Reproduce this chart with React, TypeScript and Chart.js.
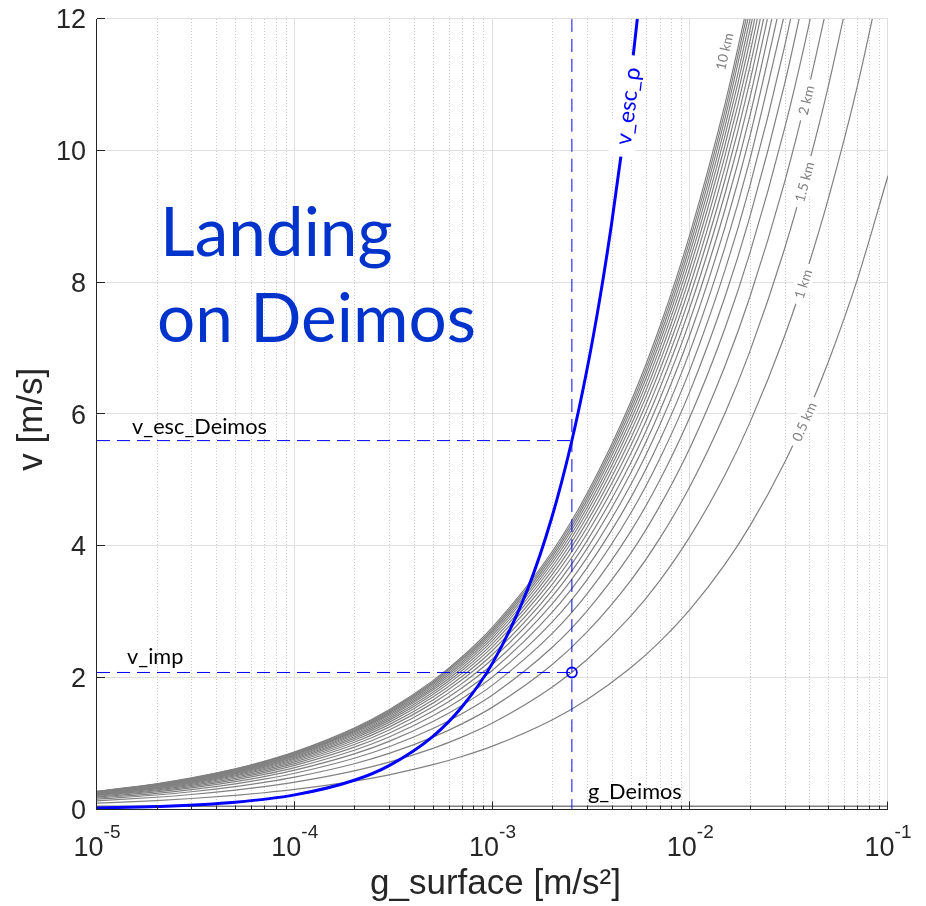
import React, { useEffect, useRef } from 'react';
import { Chart, registerables } from 'chart.js';

Chart.register(...registerables);

// Surface gravity samples (m/s²) shared by the fall-height curves
const G_SAMPLES = [
  1e-5, 2e-5, 3e-5, 5e-5, 7e-5, 1e-4, 2e-4, 3e-4, 5e-4, 7e-4, 1e-3, 2e-3, 3e-3, 5e-3, 7e-3,
  1e-2, 1.5e-2, 2e-2, 3e-2, 4e-2, 5e-2, 7e-2, 1e-1,
];

// Impact speed (m/s) after a fall from each height, one value per gravity sample
const V_0_5_KM = [0.0962, 0.136, 0.1666, 0.2151, 0.2545, 0.3042, 0.4302, 0.5269, 0.6802, 0.8048, 0.962, 1.36, 1.666, 2.151, 2.545, 3.042, 3.726, 4.302, 5.269, 6.084, 6.802, 8.048, 9.62];
const V_1_0_KM = [0.1312, 0.1856, 0.2273, 0.2935, 0.3472, 0.415, 0.5869, 0.7188, 0.928, 1.098, 1.312, 1.856, 2.273, 2.935, 3.472, 4.15, 5.083, 5.869, 7.188, 8.3, 9.28, 10.98, 13.12];
const V_1_5_KM = [0.1554, 0.2198, 0.2692, 0.3476, 0.4112, 0.4915, 0.6951, 0.8513, 1.099, 1.3, 1.554, 2.198, 2.692, 3.476, 4.112, 4.915, 6.02, 6.951, 8.513, 9.83, 10.99, 13.0];
const V_2_0_KM = [0.1739, 0.2459, 0.3012, 0.3888, 0.4601, 0.5499, 0.7777, 0.9525, 1.2296, 1.4549, 1.739, 2.459, 3.012, 3.888, 4.601, 5.499, 6.735, 7.777, 9.525, 11.0, 12.3];
const V_2_5_KM = [0.1888, 0.2669, 0.3269, 0.4221, 0.4994, 0.5969, 0.8441, 1.0339, 1.3347, 1.5793, 1.888, 2.669, 3.269, 4.221, 4.994, 5.969, 7.31, 8.441, 10.339, 11.938, 13.347];
const V_3_0_KM = [0.2011, 0.2844, 0.3483, 0.4497, 0.532, 0.6359, 0.8993, 1.1014, 1.4219, 1.6824, 2.011, 2.844, 3.483, 4.497, 5.32, 6.359, 7.788, 8.993, 11.014, 12.718];
const V_3_5_KM = [0.2115, 0.2991, 0.3664, 0.473, 0.5597, 0.6689, 0.946, 1.1586, 1.4957, 1.7697, 2.115, 2.991, 3.664, 4.73, 5.597, 6.689, 8.192, 9.46, 11.586, 13.378];
const V_4_0_KM = [0.2205, 0.3118, 0.3819, 0.4931, 0.5834, 0.6973, 0.9861, 1.2078, 1.5592, 1.8449, 2.205, 3.118, 3.819, 4.931, 5.834, 6.973, 8.54, 9.861, 12.078];
const V_4_5_KM = [0.2284, 0.323, 0.3956, 0.5107, 0.6042, 0.7222, 1.0213, 1.2508, 1.6148, 1.9106, 2.284, 3.23, 3.956, 5.107, 6.042, 7.222, 8.845, 10.213, 12.508];
const V_5_0_KM = [0.2353, 0.3327, 0.4075, 0.5261, 0.6225, 0.744, 1.0522, 1.2887, 1.6636, 1.9684, 2.353, 3.327, 4.075, 5.261, 6.225, 7.44, 9.112, 10.522, 12.887];
const V_5_5_KM = [0.2414, 0.3414, 0.4182, 0.5399, 0.6388, 0.7635, 1.0798, 1.3224, 1.7072, 2.02, 2.414, 3.414, 4.182, 5.399, 6.388, 7.635, 9.351, 10.798, 13.224];
const V_6_0_KM = [0.2469, 0.3492, 0.4277, 0.5522, 0.6533, 0.7809, 1.1044, 1.3526, 1.7462, 2.0661, 2.469, 3.492, 4.277, 5.522, 6.533, 7.809, 9.564, 11.044, 13.526];
const V_6_5_KM = [0.2519, 0.3563, 0.4363, 0.5633, 0.6665, 0.7966, 1.1266, 1.3798, 1.7813, 2.1076, 2.519, 3.563, 4.363, 5.633, 6.665, 7.966, 9.756, 11.266, 13.798];
const V_7_0_KM = [0.2564, 0.3626, 0.4441, 0.5734, 0.6784, 0.8109, 1.1468, 1.4045, 1.8132, 2.1454, 2.564, 3.626, 4.441, 5.734, 6.784, 8.109, 9.931, 11.468, 14.045];
const V_7_5_KM = [0.2605, 0.3685, 0.4513, 0.5826, 0.6893, 0.8239, 1.1652, 1.427, 1.8423, 2.1798, 2.605, 3.685, 4.513, 5.826, 6.893, 8.239, 10.091, 11.652, 14.27];
const V_8_0_KM = [0.2643, 0.3738, 0.4578, 0.591, 0.6993, 0.8358, 1.182, 1.4477, 1.8689, 2.2113, 2.643, 3.738, 4.578, 5.91, 6.993, 8.358, 10.236, 11.82, 14.477];
const V_8_5_KM = [0.2678, 0.3787, 0.4638, 0.5988, 0.7085, 0.8468, 1.1976, 1.4667, 1.8935, 2.2404, 2.678, 3.787, 4.638, 5.988, 7.085, 8.468, 10.371, 11.976, 14.667];
const V_9_0_KM = [0.271, 0.3832, 0.4693, 0.6059, 0.7169, 0.8569, 1.2118, 1.4842, 1.9161, 2.2671, 2.71, 3.832, 4.693, 6.059, 7.169, 8.569, 10.495, 12.118];
const V_9_5_KM = [0.2739, 0.3874, 0.4744, 0.6125, 0.7247, 0.8662, 1.225, 1.5003, 1.9369, 2.2917, 2.739, 3.874, 4.744, 6.125, 7.247, 8.662, 10.609, 12.25];
const V_10_0_KM = [0.2767, 0.3913, 0.4792, 0.6187, 0.732, 0.8749, 1.2373, 1.5154, 1.9563, 2.3148, 2.767, 3.913, 4.792, 6.187, 7.32, 8.749, 10.715, 12.373];

const FALL_CURVES = [
  V_0_5_KM, V_1_0_KM, V_1_5_KM, V_2_0_KM, V_2_5_KM, V_3_0_KM, V_3_5_KM, V_4_0_KM, V_4_5_KM, V_5_0_KM,
  V_5_5_KM, V_6_0_KM, V_6_5_KM, V_7_0_KM, V_7_5_KM, V_8_0_KM, V_8_5_KM, V_9_0_KM, V_9_5_KM, V_10_0_KM,
];

// Flat gray base line just above v = 0
const G_BASE = [1e-5, 1e-1];
const V_BASE = [0.05, 0.05];

// Escape speed of a body of Deimos' density, as a function of its surface gravity
const G_RHO = [1e-5, 2e-5, 5e-5, 1e-4, 2e-4, 3e-4, 5e-4, 7e-4, 1e-3, 1.5e-3, 2e-3, 2.5e-3, 3e-3, 3.5e-3, 4e-3, 4.5e-3, 5e-3, 5.5e-3];
const V_ESC_RHO = [0.0222, 0.0444, 0.111, 0.222, 0.444, 0.667, 1.111, 1.556, 2.222, 3.333, 4.444, 5.556, 6.667, 7.778, 8.889, 10.0, 11.11, 12.22];

// Deimos reference values
const G_DEIMOS = 0.00252;
const V_ESC_DEIMOS = 5.6;
const V_IMP = 2.08;

// Axis ticks
const Y_TICKS = [0, 2, 4, 6, 8, 10, 12];
const X_TICK_EXPONENTS = [-5, -4, -3, -2, -1];

// Contour labels: text and the point of its curve where it sits
const CONTOUR_LABELS = ['0.5 km', '1 km', '1.5 km', '2 km', '10 km'];
const CONTOUR_LABEL_G = [0.0375, 0.037, 0.0376, 0.0384, 0.0148];
const CONTOUR_LABEL_V = [5.89, 7.98, 9.53, 10.77, 11.51];

// ---- styling -------------------------------------------------------------
const AXIS_COLOR = '#262626';
const MAJOR_GRID = '#dfdfdf';
const MINOR_GRID = '#c9c9c9';
const CURVE_GRAY = '#808080';
const BLUE = '#0000ff';
const TITLE_BLUE = '#0033cc';
const SANS = '"Liberation Sans", Arial, Helvetica, sans-serif';
const NOTE = 'Lato, "Open Sans", sans-serif';
const CONTOUR_LABEL_ANGLE = [66, 72, 75, 76.5, 77];

function fitSize(ctx: CanvasRenderingContext2D, text: string, family: string, width: number) {
  ctx.font = `100px ${family}`;
  return (100 * width) / ctx.measureText(text).width;
}

function boxedText(
  ctx: CanvasRenderingContext2D, text: string, cx: number, cy: number, angle: number,
  font: string, color: string, padX: number, padY: number,
) {
  ctx.save();
  ctx.translate(cx, cy);
  ctx.rotate((-angle * Math.PI) / 180);
  ctx.font = font;
  const w = ctx.measureText(text).width;
  ctx.fillStyle = '#ffffff';
  ctx.fillRect(-w / 2 - padX, -padY, w + 2 * padX, 2 * padY);
  ctx.fillStyle = color;
  ctx.textAlign = 'center';
  ctx.textBaseline = 'middle';
  ctx.fillText(text, 0, 1);
  ctx.restore();
}

function hLine(ctx: CanvasRenderingContext2D, x0: number, x1: number, y: number) {
  ctx.beginPath();
  ctx.moveTo(x0, y);
  ctx.lineTo(x1, y);
  ctx.stroke();
}

function vLine(ctx: CanvasRenderingContext2D, x: number, y0: number, y1: number) {
  ctx.beginPath();
  ctx.moveTo(x, y0);
  ctx.lineTo(x, y1);
  ctx.stroke();
}

const snap = (v: number) => Math.round(v) + 0.5;

const frame = {
  id: 'frame',
  beforeDatasetsDraw(chart: any) {
    const { ctx, chartArea: a } = chart;
    const x = chart.scales.x;
    const y = chart.scales.y;
    ctx.save();
    ctx.lineWidth = 1;
    // dotted minor grid between decades
    ctx.strokeStyle = MINOR_GRID;
    ctx.setLineDash([1, 2]);
    for (const e of X_TICK_EXPONENTS.slice(0, -1)) {
      for (let k = 2; k <= 9; k++) vLine(ctx, snap(x.getPixelForValue(k * Math.pow(10, e))), a.top, a.bottom);
    }
    // solid major grid
    ctx.setLineDash([]);
    ctx.strokeStyle = MAJOR_GRID;
    for (const e of X_TICK_EXPONENTS) vLine(ctx, snap(x.getPixelForValue(Math.pow(10, e))) - 1, a.top, a.bottom);
    for (const t of Y_TICKS) hLine(ctx, a.left, a.right, snap(y.getPixelForValue(t)) - 1);
    ctx.restore();
  },
  afterDatasetsDraw(chart: any) {
    const { ctx, chartArea: a } = chart;
    const x = chart.scales.x;
    const y = chart.scales.y;
    ctx.save();

    // contour labels break their curves
    const cSize = fitSize(ctx, '1.5 km', NOTE, 41);
    CONTOUR_LABELS.forEach((t, i) => {
      boxedText(ctx, t, x.getPixelForValue(CONTOUR_LABEL_G[i]), y.getPixelForValue(CONTOUR_LABEL_V[i]),
        CONTOUR_LABEL_ANGLE[i], `${cSize}px ${NOTE}`, CURVE_GRAY, 6, 9);
    });

    // escape-speed curve label
    const rSize = fitSize(ctx, 'v_esc_ρ', NOTE, 78);
    boxedText(ctx, 'v_esc_ρ', x.getPixelForValue(0.0048), y.getPixelForValue(10.68), 83,
      `${rSize}px ${NOTE}`, BLUE, 12, 13);

    // annotations
    ctx.fillStyle = '#000000';
    ctx.textAlign = 'left';
    ctx.textBaseline = 'alphabetic';
    const nSize = fitSize(ctx, 'v_esc_Deimos', NOTE, 135);
    ctx.font = `${nSize}px ${NOTE}`;
    ctx.fillText('v_esc_Deimos', 132, y.getPixelForValue(V_ESC_DEIMOS) - 7);
    ctx.fillText('v_imp', 127, y.getPixelForValue(V_IMP) - 8);
    ctx.fillText('g_Deimos', x.getPixelForValue(G_DEIMOS) + 16, 799);

    // big blue caption
    const tSize = fitSize(ctx, 'on Deimos', NOTE, 319);
    ctx.font = `${tSize}px ${NOTE}`;
    ctx.fillStyle = TITLE_BLUE;
    ctx.fillText('Landing', 160, 256);
    ctx.fillText('on Deimos', 157, 342);

    // axis lines
    ctx.strokeStyle = AXIS_COLOR;
    ctx.lineWidth = 1;
    vLine(ctx, snap(a.left) - 1, a.top, a.bottom + 0.5);
    hLine(ctx, a.left - 0.5, a.right, snap(a.bottom) - 1);

    // inward ticks
    for (const t of Y_TICKS) hLine(ctx, a.left, a.left + 8, snap(y.getPixelForValue(t)) - 1);
    for (const e of X_TICK_EXPONENTS) {
      vLine(ctx, snap(x.getPixelForValue(Math.pow(10, e))) - 1, a.bottom, a.bottom - 8);
      if (e < X_TICK_EXPONENTS[X_TICK_EXPONENTS.length - 1]) {
        for (let k = 2; k <= 9; k++) vLine(ctx, snap(x.getPixelForValue(k * Math.pow(10, e))), a.bottom, a.bottom - 4);
      }
    }

    // y tick labels
    ctx.fillStyle = AXIS_COLOR;
    ctx.font = `27px ${SANS}`;
    ctx.textAlign = 'right';
    ctx.textBaseline = 'middle';
    for (const t of Y_TICKS) ctx.fillText(String(t), 86, y.getPixelForValue(t) + 2);

    // x tick labels as powers of ten
    ctx.textAlign = 'left';
    ctx.textBaseline = 'alphabetic';
    for (const e of X_TICK_EXPONENTS) {
      const px = x.getPixelForValue(Math.pow(10, e));
      ctx.font = `27px ${SANS}`;
      const wb = ctx.measureText('10').width;
      ctx.font = `19px ${SANS}`;
      const we = ctx.measureText(String(e)).width;
      const x0 = px - (wb + we) / 2;
      ctx.font = `27px ${SANS}`;
      ctx.fillText('10', x0, 856);
      ctx.font = `19px ${SANS}`;
      ctx.fillText(String(e), x0 + wb, 838);
    }

    // axis titles
    ctx.font = `35px ${SANS}`;
    ctx.textAlign = 'center';
    ctx.fillText('g_surface [m/s²]', (a.left + a.right) / 2 + 3, 894);
    ctx.translate(42, (a.top + a.bottom) / 2 + 5);
    ctx.rotate(-Math.PI / 2);
    ctx.fillText('v [m/s]', 0, 0);
    ctx.restore();
  },
};

export default function App() {
  const ref = useRef<HTMLCanvasElement>(null);

  useEffect(() => {
    const canvas = ref.current;
    if (!canvas) return;

    const curveSets = FALL_CURVES.map((vals) => ({
      data: vals.map((v, i) => ({ x: G_SAMPLES[i], y: v })),
      borderColor: CURVE_GRAY,
      borderWidth: 1.2,
      order: 3,
    }));

    const chart = new Chart(canvas, {
      type: 'line',
      data: {
        datasets: [
          ...curveSets,
          {
            data: V_BASE.map((v, i) => ({ x: G_BASE[i], y: v })),
            borderColor: CURVE_GRAY,
            borderWidth: 1.6,
            order: 3,
          },
          {
            data: V_ESC_RHO.map((v, i) => ({ x: G_RHO[i], y: v })),
            borderColor: BLUE,
            borderWidth: 3,
            order: 2,
          },
          {
            data: [{ x: 1e-5, y: V_ESC_DEIMOS }, { x: G_DEIMOS, y: V_ESC_DEIMOS }],
            borderColor: BLUE,
            borderWidth: 1,
            borderDash: [13, 7],
            order: 1,
          },
          {
            data: [{ x: 1e-5, y: V_IMP }, { x: G_DEIMOS, y: V_IMP }],
            borderColor: BLUE,
            borderWidth: 1,
            borderDash: [13, 7],
            order: 1,
          },
          {
            data: [{ x: G_DEIMOS, y: 12 }, { x: G_DEIMOS, y: 0 }],
            borderColor: BLUE,
            borderWidth: 1,
            borderDash: [13, 7],
            order: 1,
          },
          {
            data: [{ x: G_DEIMOS, y: V_IMP }],
            showLine: false,
            pointRadius: 5,
            pointBorderWidth: 1.8,
            pointBorderColor: BLUE,
            pointBackgroundColor: 'rgba(0,0,0,0)',
            order: 0,
          },
        ] as any,
      },
      options: {
        animation: false,
        responsive: false,
        maintainAspectRatio: false,
        events: [],
        layout: { padding: { left: 97, top: 19, right: 38, bottom: 96.5 } },
        plugins: { legend: { display: false }, tooltip: { enabled: false }, title: { display: false } },
        elements: {
          point: { radius: 0 },
          line: { cubicInterpolationMode: 'monotone', capBezierPoints: false, fill: false },
        },
        scales: {
          x: { type: 'logarithmic', min: 1e-5, max: 1e-1, display: false },
          y: { type: 'linear', min: 0, max: 12, display: false },
        },
      } as any,
      plugins: [frame],
    });

    return () => chart.destroy();
  }, []);

  return (
    <div style={{ position: 'absolute', left: 0, top: 0, width: 926, height: 906, background: '#ffffff' }}>
      <canvas ref={ref} width={926} height={906} style={{ display: 'block' }} />
    </div>
  );
}
